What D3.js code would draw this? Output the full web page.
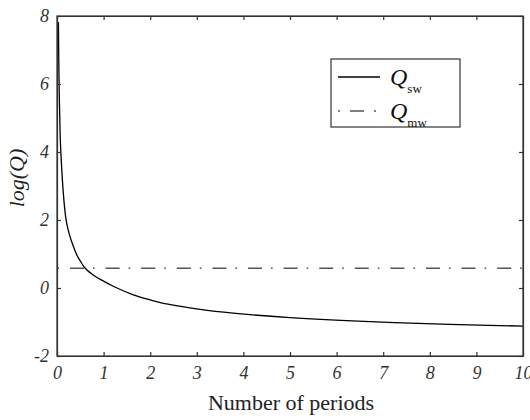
<!DOCTYPE html>
<html>
<head>
<meta charset="utf-8">
<script src="https://cdn.jsdelivr.net/npm/d3@7"></script>
<style>
  body { margin: 0; background: #fff; }
  svg { display: block; }
  svg text { font-family: "Liberation Serif", "Times New Roman", "DejaVu Serif", serif; }
</style>
</head>
<body>
<div id="chart"></div>
<script>
// values
const periods = [0.03, 0.045, 0.07, 0.086, 0.135, 0.19, 0.25, 0.31, 0.44, 0.52, 0.6, 0.8, 0.92, 1.24, 1.64, 2.0, 2.35, 3.07, 3.78, 5.0, 6.72, 8.43, 10];
const logQsw = [7.82, 6.0, 4.4, 3.9, 2.8, 2.05, 1.65, 1.38, 0.93, 0.75, 0.59, 0.36, 0.26, 0.03, -0.2, -0.35, -0.47, -0.63, -0.74, -0.87, -0.99, -1.07, -1.12];
const logQmw = 0.58;
const xTicks = [0, 1, 2, 3, 4, 5, 6, 7, 8, 9, 10];
const yTicks = [-2, 0, 2, 4, 6, 8];

const width = 530;
const height = 420;
const margin = { top: 16, right: 7, bottom: 64, left: 57 };
const plotW = width - margin.left - margin.right;
const plotH = height - margin.top - margin.bottom;
const serif = '"Liberation Serif", "Times New Roman", "DejaVu Serif", serif';

const svg = d3.select('#chart')
    .append('svg')
    .attr('width', width)
    .attr('height', height);

const x = d3.scaleLinear().domain([0, 10]).range([0, plotW]);
const y = d3.scaleLinear().domain([-2, 8]).range([plotH, 0]);

const g = svg.append('g')
    .attr('transform', `translate(${margin.left},${margin.top})`);

svg.append('defs').append('clipPath')
    .attr('id', 'plot-clip')
    .append('rect')
    .attr('width', plotW)
    .attr('height', plotH);

// curves
const plot = g.append('g').attr('clip-path', 'url(#plot-clip)');

plot.append('line')
    .attr('x1', x(0)).attr('x2', x(10))
    .attr('y1', y(logQmw)).attr('y2', y(logQmw))
    .attr('stroke', '#555')
    .attr('stroke-width', 1.4)
    .attr('stroke-dasharray', '14,9,1.6,11')
    .attr('stroke-dashoffset', 22.6);

const line = d3.line()
    .x((d, i) => x(periods[i]))
    .y(d => y(d))
    .curve(d3.curveCatmullRom.alpha(0.5));

plot.append('path')
    .datum(logQsw)
    .attr('d', line)
    .attr('fill', 'none')
    .attr('stroke', '#000')
    .attr('stroke-width', 1.3);

// axes: ticks inward on all four sides
const tickColor = '#333';
const fmt = d => String(d);

g.append('g')
    .attr('transform', `translate(0,${plotH})`)
    .call(d3.axisBottom(x).tickValues(xTicks).tickFormat(fmt).tickSizeInner(-4).tickSizeOuter(0).tickPadding(10));

g.append('g')
    .call(d3.axisLeft(y).tickValues(yTicks).tickFormat(fmt).tickSizeInner(-4).tickSizeOuter(0).tickPadding(8));

g.append('g')
    .call(d3.axisTop(x).tickValues(xTicks).tickSizeInner(-4).tickSizeOuter(0).tickFormat(''));

g.append('g')
    .attr('transform', `translate(${plotW},0)`)
    .call(d3.axisRight(y).tickValues(yTicks).tickSizeInner(-4).tickSizeOuter(0).tickFormat(''));

g.selectAll('g').attr('font-family', serif);
g.selectAll('.tick text')
    .attr('font-size', 18)
    .attr('font-style', 'italic')
    .attr('fill', tickColor);
g.selectAll('.domain, .tick line').attr('stroke', tickColor).attr('stroke-width', 1.2);

g.append('rect')
    .attr('width', plotW)
    .attr('height', plotH)
    .attr('fill', 'none')
    .attr('stroke', tickColor)
    .attr('stroke-width', 1.2);

// axis titles
svg.append('text')
    .attr('x', 291)
    .attr('y', 410)
    .attr('text-anchor', 'middle')
    .attr('font-size', 22)
    .attr('fill', '#222')
    .text('Number of periods');

svg.append('text')
    .attr('transform', 'translate(24,178) rotate(-90)')
    .attr('text-anchor', 'middle')
    .attr('font-size', 22)
    .attr('font-style', 'italic')
    .attr('fill', '#222')
    .text('log(Q)');

// legend
const legend = svg.append('g');
legend.append('rect')
    .attr('x', 331).attr('y', 59)
    .attr('width', 129).attr('height', 68)
    .attr('fill', '#fff')
    .attr('stroke', tickColor)
    .attr('stroke-width', 1.2);

const rows = [
    { sub: 'sw', dash: null, color: '#000' },
    { sub: 'mw', dash: '2,10,14,10,2,100', color: '#555' }
];
rows.forEach((r, i) => {
    const ly = 77 + i * 34;
    legend.append('line')
        .attr('x1', 338).attr('x2', i === 0 ? 380 : 376)
        .attr('y1', ly).attr('y2', ly)
        .attr('stroke', r.color)
        .attr('stroke-width', 1.4)
        .attr('stroke-dasharray', r.dash);
    const t = legend.append('text')
        .attr('x', 390)
        .attr('y', ly + 8)
        .attr('fill', '#111');
    t.append('tspan')
        .attr('font-size', 24)
        .attr('font-style', 'italic')
        .text('Q');
    t.append('tspan')
        .attr('font-size', 13)
        .attr('dy', 8)
        .text(r.sub);
});
</script>
</body>
</html>
